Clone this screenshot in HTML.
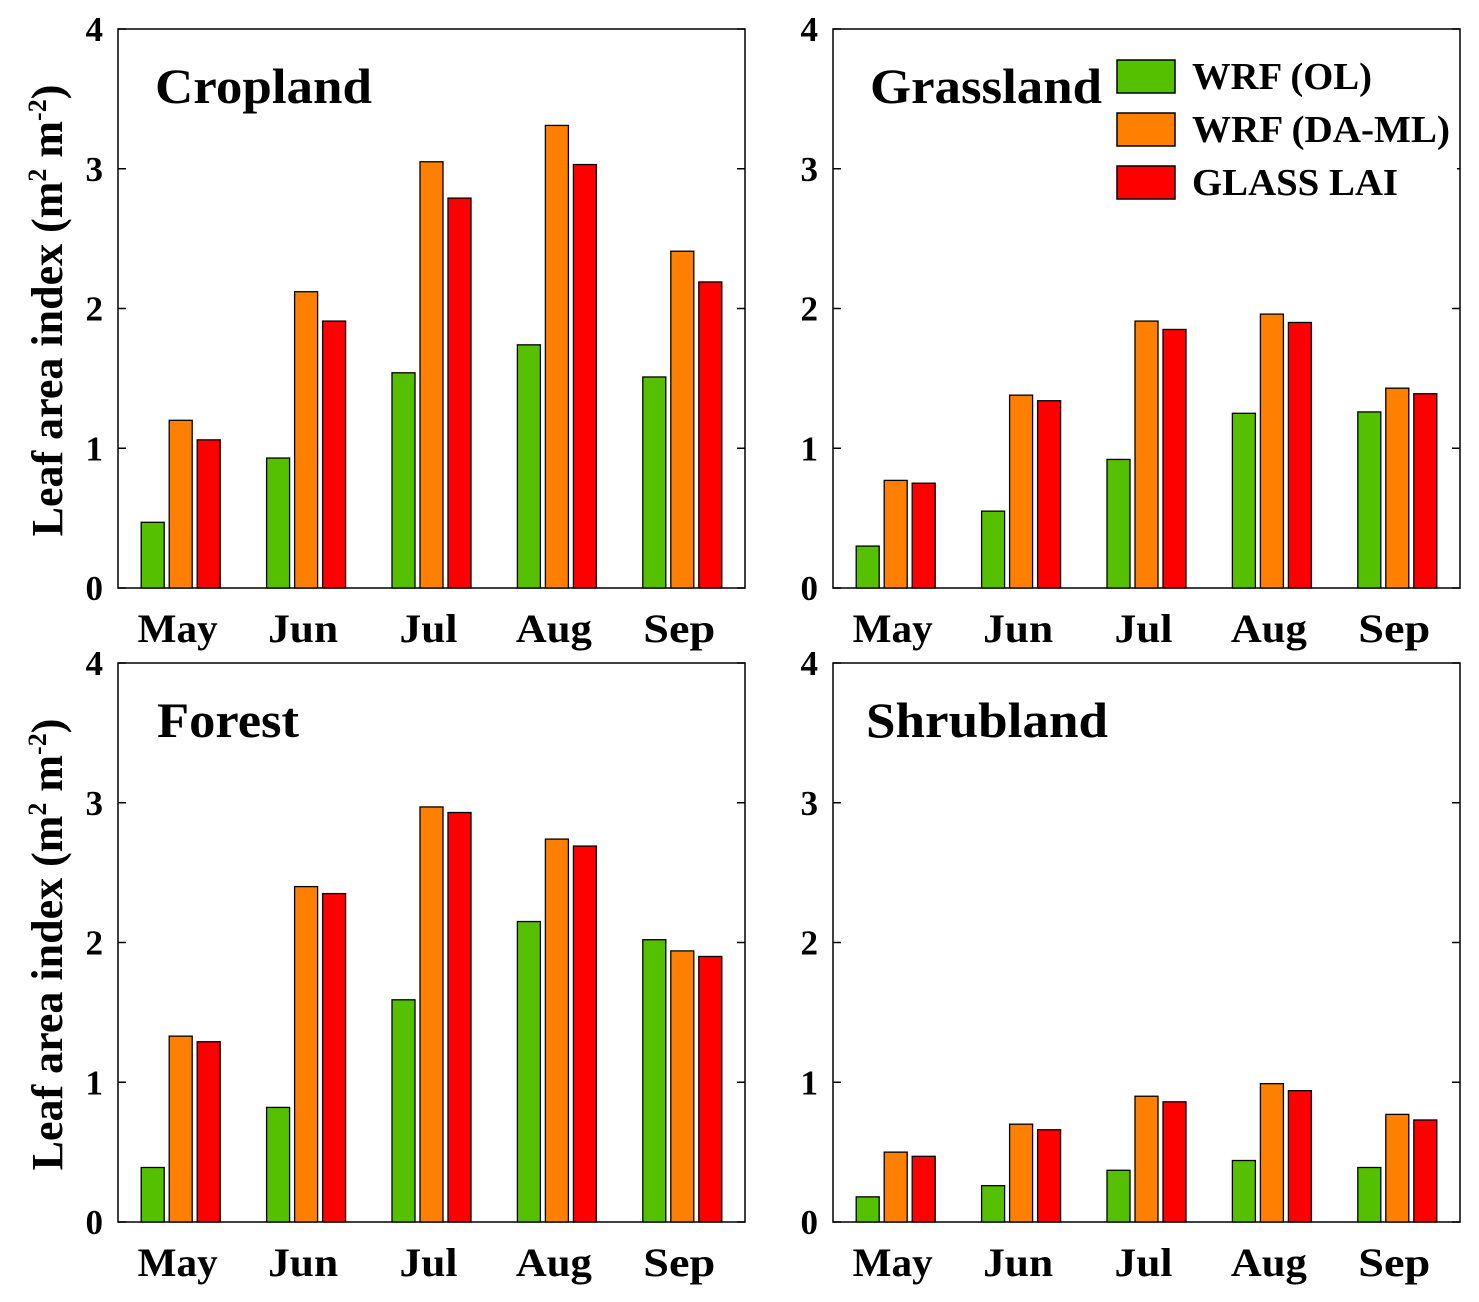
<!DOCTYPE html>
<html><head><meta charset="utf-8"><style>
body{margin:0;background:#fff}
svg text{font-family:"Liberation Serif",serif;font-weight:bold;fill:#000}
</style></head><body>
<svg id="c" width="1479" height="1297" xmlns="http://www.w3.org/2000/svg"></svg>
<script>
const months = ["May","Jun","Jul","Aug","Sep"];
const yTicks = [0,1,2,3,4];
const seriesNames = ["WRF (OL)","WRF (DA-ML)","GLASS LAI"];
const panelTitles = ["Cropland","Grassland","Forest","Shrubland"];
const croplandOL = [0.47,0.93,1.54,1.74,1.51];
const croplandDA = [1.20,2.12,3.05,3.31,2.41];
const croplandGL = [1.06,1.91,2.79,3.03,2.19];
const grassOL = [0.30,0.55,0.92,1.25,1.26];
const grassDA = [0.77,1.38,1.91,1.96,1.43];
const grassGL = [0.75,1.34,1.85,1.90,1.39];
const forestOL = [0.39,0.82,1.59,2.15,2.02];
const forestDA = [1.33,2.40,2.97,2.74,1.94];
const forestGL = [1.29,2.35,2.93,2.69,1.90];
const shrubOL = [0.18,0.26,0.37,0.44,0.39];
const shrubDA = [0.50,0.70,0.90,0.99,0.77];
const shrubGL = [0.47,0.66,0.86,0.94,0.73];

const colors = ["#55c000","#ff8000","#ff0000"];
const NS="http://www.w3.org/2000/svg";
const svg=document.getElementById('c');
function mk(t,a,p){const e=document.createElementNS(NS,t);for(const k in a)e.setAttribute(k,a[k]);(p||svg).appendChild(e);return e;}
const panels=[
 {x:118,y:29,data:[croplandOL,croplandDA,croplandGL],tx:155,ty:103,tw:217,ylab:true},
 {x:833,y:29,data:[grassOL,grassDA,grassGL],tx:870,ty:103,tw:232,ylab:false},
 {x:118,y:663,data:[forestOL,forestDA,forestGL],tx:157,ty:737,tw:142,ylab:true},
 {x:833,y:663,data:[shrubOL,shrubDA,shrubGL],tx:866,ty:737,tw:242,ylab:false}];
const monthW=[80,70,58,76,72];
const W=627,H=559;
panels.forEach((p,pi)=>{
 const g=mk('g',{});
 
 
 const ys=v=>p.y+H-v/4*H;
 const xs=i=>p.x+(i+0.5)*W/5;
 const fr=mk('rect',{x:p.x,y:p.y,width:W,height:H,fill:'none',stroke:'#000','stroke-width':1.5},g);
 
 yTicks.forEach(t=>{
  const y=ys(t);
  mk('line',{x1:p.x,x2:p.x+8,y1:y,y2:y,stroke:'#000','stroke-width':1.5},g);
  mk('line',{x1:p.x+W,x2:p.x+W-8,y1:y,y2:y,stroke:'#000','stroke-width':1.5},g);
  const tl=mk('text',{x:p.x-15,y:y+12,'text-anchor':'end','font-size':35},g);
  tl.textContent=t;
  
 });
 months.forEach((m,i)=>{
  const ml=mk('text',{x:xs(i)-3,y:p.y+H+54,'text-anchor':'middle','font-size':40,textLength:monthW[i],lengthAdjust:'spacingAndGlyphs'},g);
  ml.textContent=m;
  
  p.data.forEach((s,si)=>{
   const cx=xs(i)+(si-1)*28;
   const b=mk('rect',{x:cx-11.5,y:ys(s[i]),width:23,height:ys(0)-ys(s[i]),fill:colors[si],stroke:'#000','stroke-width':1.3},g);
   
   
  });
 });
 const tt=mk('text',{x:p.tx,y:p.ty,'font-size':50,textLength:p.tw,lengthAdjust:'spacingAndGlyphs'},g);
 tt.textContent=panelTitles[pi];
 
 if(p.ylab){
  const cy=p.y+H/2+2;
  const yl=mk('text',{x:0,y:0,'font-size':44,'text-anchor':'middle',transform:`translate(62,${cy}) rotate(-90)`},g);
  yl.innerHTML='Leaf area index (m<tspan dy="-16" font-size="26">2</tspan><tspan dy="16"> m</tspan><tspan dy="-16" font-size="26">-2</tspan><tspan dy="16">)</tspan>';
  
 }
});
const lg=mk('g',{});

mk('rect',{x:1105,y:50,width:352,height:160,fill:'#fff'},lg);
const legW=[180,258,206];
seriesNames.forEach((n,i)=>{
 const y=60+i*53;
 const sw=mk('rect',{x:1117,y:y,width:58,height:33,fill:colors[i],stroke:'#000','stroke-width':1.5},lg);
 
 const t=mk('text',{x:1192,y:y+29,'font-size':38,textLength:legW[i],lengthAdjust:'spacingAndGlyphs'},lg);
 t.textContent=n;
 
});
</script>
</body></html>
